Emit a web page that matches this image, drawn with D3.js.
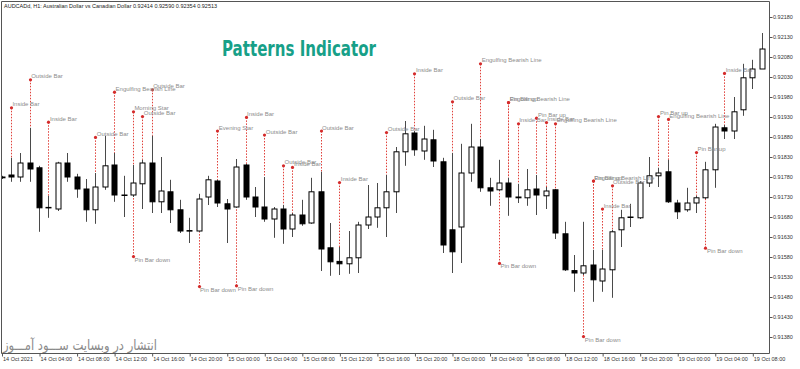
<!DOCTYPE html>
<html>
<head>
<meta charset="utf-8">
<script src="https://cdn.jsdelivr.net/npm/d3@7"></script>
<style>
  html, body { margin: 0; padding: 0; background: #fff; }
  svg { display: block; }
  .axis text { font-family: "Liberation Sans", Arial, sans-serif; font-size: 5.5px; fill: #333; }
  .axis line { stroke: #555; }
</style>
</head>
<body>
<div id="chart"></div>
<script>
// AUDCAD H1 candles, bar 0 = 14 Oct 2021 00:00
const opens = [0.91780, 0.91785, 0.91780, 0.91815, 0.91803, 0.91704, 0.91700, 0.91815, 0.91780, 0.91750,
  0.91698, 0.91755, 0.91810, 0.91735, 0.91735, 0.91763, 0.91815, 0.91718, 0.91743, 0.91698,
  0.91646, 0.91645, 0.91730, 0.91770, 0.91713, 0.91705, 0.91810, 0.91730, 0.91705, 0.91675,
  0.91700, 0.91650, 0.91685, 0.91665, 0.91743, 0.91603, 0.91569, 0.91563, 0.91578, 0.91660,
  0.91680, 0.91703, 0.91743, 0.91843, 0.91890, 0.91845, 0.91873, 0.91818, 0.91648, 0.91655,
  0.91790, 0.91855, 0.91753, 0.91748, 0.91765, 0.91730, 0.91728, 0.91750, 0.91733, 0.91748,
  0.91638, 0.91546, 0.91540, 0.91560, 0.91520, 0.91548, 0.91648, 0.91680, 0.91678, 0.91765,
  0.91783, 0.91793, 0.91715, 0.91698, 0.91715, 0.91728, 0.91798, 0.91903, 0.91895, 0.91948,
  0.92028, 0.92050];
const highs = [0.91783, 0.91828, 0.91840, 0.91903, 0.91808, 0.91733, 0.91818, 0.91840, 0.91788, 0.91775,
  0.91790, 0.91883, 0.91840, 0.91783, 0.91810, 0.91823, 0.91883, 0.91830, 0.91773, 0.91723,
  0.91678, 0.91738, 0.91783, 0.91773, 0.91725, 0.91825, 0.91813, 0.91755, 0.91780, 0.91705,
  0.91710, 0.91690, 0.91723, 0.91778, 0.91793, 0.91665, 0.91605, 0.91645, 0.91668, 0.91760,
  0.91765, 0.91785, 0.91855, 0.91920, 0.91895, 0.91908, 0.91898, 0.91828, 0.91840, 0.91863,
  0.91913, 0.91875, 0.91778, 0.91823, 0.91778, 0.91763, 0.91800, 0.91785, 0.91755, 0.91750,
  0.91668, 0.91585, 0.91668, 0.91598, 0.91598, 0.91648, 0.91698, 0.91713, 0.91770, 0.91830,
  0.91803, 0.91823, 0.91723, 0.91753, 0.91733, 0.91818, 0.91913, 0.91910, 0.91980, 0.92063,
  0.92073, 0.92140];
const lows = [0.91775, 0.91768, 0.91768, 0.91768, 0.91643, 0.91678, 0.91695, 0.91768, 0.91728, 0.91668,
  0.91663, 0.91748, 0.91718, 0.91680, 0.91730, 0.91700, 0.91690, 0.91690, 0.91665, 0.91640,
  0.91615, 0.91643, 0.91710, 0.91705, 0.91615, 0.91703, 0.91723, 0.91680, 0.91668, 0.91628,
  0.91613, 0.91630, 0.91658, 0.91663, 0.91545, 0.91533, 0.91535, 0.91538, 0.91540, 0.91650,
  0.91653, 0.91630, 0.91690, 0.91808, 0.91833, 0.91823, 0.91805, 0.91590, 0.91540, 0.91565,
  0.91768, 0.91743, 0.91708, 0.91745, 0.91683, 0.91715, 0.91708, 0.91685, 0.91700, 0.91625,
  0.91545, 0.91493, 0.91535, 0.91468, 0.91493, 0.91478, 0.91605, 0.91655, 0.91675, 0.91755,
  0.91755, 0.91715, 0.91675, 0.91693, 0.91690, 0.91725, 0.91753, 0.91875, 0.91875, 0.91933,
  0.92000, 0.92050];
const closes = [0.91778, 0.91780, 0.91815, 0.91800, 0.91703, 0.91703, 0.91815, 0.91780, 0.91750, 0.91698,
  0.91755, 0.91808, 0.91735, 0.91734, 0.91765, 0.91815, 0.91718, 0.91745, 0.91698, 0.91645,
  0.91645, 0.91725, 0.91773, 0.91715, 0.91700, 0.91805, 0.91730, 0.91705, 0.91675, 0.91700,
  0.91650, 0.91685, 0.91663, 0.91743, 0.91600, 0.91568, 0.91563, 0.91578, 0.91660, 0.91680,
  0.91703, 0.91743, 0.91843, 0.91888, 0.91848, 0.91875, 0.91820, 0.91610, 0.91593, 0.91790,
  0.91855, 0.91753, 0.91745, 0.91765, 0.91730, 0.91728, 0.91748, 0.91735, 0.91745, 0.91640,
  0.91548, 0.91540, 0.91558, 0.91523, 0.91550, 0.91643, 0.91678, 0.91679, 0.91765, 0.91783,
  0.91790, 0.91718, 0.91693, 0.91715, 0.91728, 0.91798, 0.91905, 0.91895, 0.91943, 0.92028,
  0.92050, 0.92100];

// Pattern signals: bar index, marker price, name
const patternBars = [1, 3, 5, 10, 12, 14, 15, 16, 23, 26, 28, 30, 31, 34, 36, 41, 44, 48, 51, 54,
  54, 55, 57, 58, 59, 63, 63, 64, 65, 70, 71, 74, 77,
  14, 21, 25, 53, 62, 75];
const patternPrices = [0.91953, 0.92023, 0.91917, 0.91879, 0.91992, 0.91943, 0.91931, 0.91998, 0.91895, 0.91929,
  0.91885, 0.91808, 0.91804, 0.91895, 0.91766, 0.91891, 0.92038, 0.91968, 0.92063, 0.91966,
  0.91966, 0.91913, 0.91927, 0.91916, 0.91913, 0.91770, 0.91770, 0.91700, 0.91758, 0.91931,
  0.91924, 0.91841, 0.92039,
  0.91581, 0.91506, 0.91508, 0.91564, 0.91381, 0.91602];
const patternNames = ["Inside Bar", "Outside Bar", "Inside Bar", "Outside Bar", "Engulfing Bearish Line",
  "Morning Star", "Outside Bar", "Outside Bar", "Evening Star", "Inside Bar",
  "Outside Bar", "Outside Bar", "Inside Bar", "Outside Bar", "Inside Bar",
  "Outside Bar", "Inside Bar", "Outside Bar", "Engulfing Bearish Line", "Engulfing Bearish Line",
  "Pin Bar up", "Inside Bar", "Pin Bar up", "Inside Bar", "Engulfing Bearish Line",
  "Engulfing Bearish Line", "Pin Bar up", "Inside Bar", "Outside Bar", "Pin Bar up",
  "Engulfing Bearish Line", "Pin Bar up", "Inside Bar",
  "Pin Bar down", "Pin Bar down", "Pin Bar down", "Pin Bar down", "Pin Bar down", "Pin Bar down"];

// Axis ticks
const xTickBars = [0, 4, 8, 12, 16, 20, 24, 28, 32, 36, 40, 44, 48, 52, 56, 60, 64, 68, 72, 76, 80];
const xTickLabels = ["14 Oct 2021", "14 Oct 04:00", "14 Oct 08:00", "14 Oct 12:00", "14 Oct 16:00",
  "14 Oct 20:00", "15 Oct 00:00", "15 Oct 04:00", "15 Oct 08:00", "15 Oct 12:00", "15 Oct 16:00",
  "15 Oct 20:00", "18 Oct 00:00", "18 Oct 04:00", "18 Oct 08:00", "18 Oct 12:00", "18 Oct 16:00",
  "18 Oct 20:00", "19 Oct 00:00", "19 Oct 04:00", "19 Oct 08:00"];
const yTickValues = [0.92180, 0.92130, 0.92080, 0.92030, 0.91980, 0.91930, 0.91880, 0.91830, 0.91780,
  0.91730, 0.91680, 0.91630, 0.91580, 0.91530, 0.91480, 0.91430, 0.91380];

const headerText = "AUDCADd, H1:  Australian Dollar vs Canadian Dollar  0.92414 0.92590 0.92354 0.92513";
const titleText = "Patterns Indicator";
const watermarkText = "انتشار در وبسایت  ســـود آمـــوز";

// Dimensions
const width = 800;
const height = 369;
const frame = { left: 1, top: 1, right: 769, bottom: 353.5 };

const candles = opens.map((o, i) => ({ i, o, h: highs[i], l: lows[i], c: closes[i] }));
const patterns = patternBars.map((b, k) => ({ bar: b, price: patternPrices[k], name: patternNames[k] }));

// Scales
const x = d3.scaleLinear().domain([0, 80]).range([1.5, 752.3]);
const y = d3.scaleLinear().domain([0.92180, 0.91380]).range([17, 337]);
const bodyW = 6;

const svg = d3.select("#chart")
  .append("svg")
  .attr("width", width)
  .attr("height", height);

svg.append("rect").attr("width", width).attr("height", height).attr("fill", "#fff");

const clipId = "plotClip";
svg.append("clipPath").attr("id", clipId)
  .append("rect")
  .attr("x", frame.left).attr("y", frame.top)
  .attr("width", frame.right - frame.left).attr("height", frame.bottom - frame.top);

const plot = svg.append("g").attr("clip-path", `url(#${clipId})`);

// Watermark (bottom-left)
plot.append("text")
  .attr("x", 80)
  .attr("y", 350)
  .attr("text-anchor", "middle")
  .attr("font-family", "DejaVu Sans, sans-serif")
  .attr("font-size", "14px")
  .attr("fill", "#8a8a8a")
  .attr("textLength", 154)
  .attr("lengthAdjust", "spacingAndGlyphs")
  .text(watermarkText);

// Title
plot.append("text")
  .attr("x", 299)
  .attr("y", 56)
  .attr("text-anchor", "middle")
  .attr("font-family", "'Liberation Sans Narrow', 'DejaVu Sans Condensed', 'Liberation Sans', sans-serif")
  .attr("font-weight", "bold")
  .attr("font-size", "22px")
  .attr("fill", "#17a088")
  .attr("textLength", 154)
  .attr("lengthAdjust", "spacingAndGlyphs")
  .text(titleText);

// Dotted connectors between signal markers and bars
const px = (v) => Math.round(v) + 0.5;

plot.selectAll(".signal-line")
  .data(patterns)
  .enter()
  .append("line")
  .attr("class", "signal-line")
  .attr("x1", (d) => px(x(d.bar)))
  .attr("x2", (d) => px(x(d.bar)))
  .attr("y1", (d) => y(d.price))
  .attr("y2", (d) => {
    const c = candles[d.bar];
    return d.price > c.h ? y(c.h) : y(c.l);
  })
  .attr("stroke", "#e0403a")
  .attr("stroke-width", 1)
  .attr("stroke-dasharray", "1.5,1.5");

// Wicks
plot.selectAll(".wick")
  .data(candles)
  .enter()
  .append("line")
  .attr("class", "wick")
  .attr("x1", (d) => px(x(d.i)))
  .attr("x2", (d) => px(x(d.i)))
  .attr("y1", (d) => y(d.h))
  .attr("y2", (d) => y(d.l))
  .attr("stroke", "#4a4a4a")
  .attr("stroke-width", 1);

// Bodies
plot.selectAll(".body")
  .data(candles)
  .enter()
  .append("rect")
  .attr("class", "body")
  .attr("x", (d) => Math.round(x(d.i)) - bodyW / 2 + 1)
  .attr("y", (d) => y(Math.max(d.o, d.c)))
  .attr("width", bodyW - 1)
  .attr("height", (d) => Math.max(0.5, Math.abs(y(d.o) - y(d.c))))
  .attr("fill", (d) => (d.c > d.o ? "#fff" : "#000"))
  .attr("stroke", "#000")
  .attr("stroke-width", 1);

// Signal markers
plot.selectAll(".signal-dot")
  .data(patterns)
  .enter()
  .append("circle")
  .attr("class", "signal-dot")
  .attr("cx", (d) => px(x(d.bar)))
  .attr("cy", (d) => y(d.price))
  .attr("r", 1.6)
  .attr("fill", "#d42a2a");

plot.selectAll(".signal-label")
  .data(patterns)
  .enter()
  .append("text")
  .attr("class", "signal-label")
  .attr("x", (d) => x(d.bar) + 1.5)
  .attr("y", (d) => (d.price > candles[d.bar].h ? y(d.price) - 1.5 : y(d.price) + 5))
  .attr("font-family", "'Liberation Sans', Arial, sans-serif")
  .attr("font-size", "6px")
  .attr("fill", "#8c8c8c")
  .text((d) => d.name);

// Header
svg.append("text")
  .attr("x", 4)
  .attr("y", 8)
  .attr("font-family", "'Liberation Sans', Arial, sans-serif")
  .attr("font-size", "5.5px")
  .attr("fill", "#222")
  .text(headerText);

// Frame
svg.append("path")
  .attr("d", `M${frame.left + 0.5},${frame.top + 0.5}H${frame.right + 0.5}V${frame.bottom}H${frame.left + 0.5}Z`)
  .attr("fill", "none")
  .attr("stroke", "#555")
  .attr("stroke-width", 1);

// Price axis (right)
const yAxis = svg.append("g")
  .attr("class", "axis")
  .attr("transform", `translate(${frame.right + 0.5},0)`)
  .call(d3.axisRight(y).tickValues(yTickValues).tickFormat(d3.format(".5f")).tickSize(3).tickPadding(0.5));
yAxis.select(".domain").remove();

// Time axis (bottom)
const xAxis = svg.append("g")
  .attr("class", "axis")
  .attr("transform", `translate(0,${frame.bottom})`)
  .call(d3.axisBottom(x).tickValues(xTickBars).tickFormat((d, i) => xTickLabels[i]).tickSize(3));
xAxis.select(".domain").remove();
xAxis.selectAll(".tick line").attr("transform", "translate(0.5,0)");
xAxis.selectAll(".tick text")
  .attr("text-anchor", "start")
  .attr("x", 1)
  .attr("y", 3.5)
  .attr("dy", "0.71em");
</script>
</body>
</html>
